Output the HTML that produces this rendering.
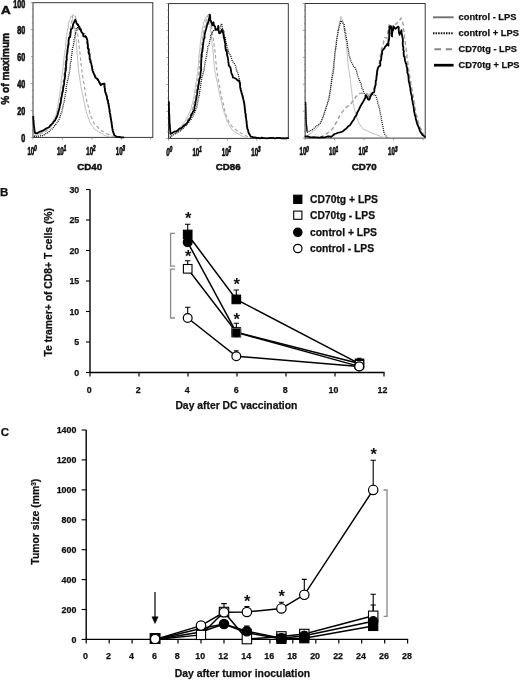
<!DOCTYPE html>
<html><head><meta charset="utf-8"><title>Figure</title>
<style>html,body{margin:0;padding:0;background:#fff}svg{display:block;filter:blur(0.45px)}text{stroke:#111;stroke-width:0.25px}.cn{stroke-width:0.7px}.st{stroke-width:0}.hv{stroke-width:0.5px}</style></head>
<body><svg width="520" height="680" viewBox="0 0 520 680">
<rect width="520" height="680" fill="#fff"/>
<rect x="33" y="2.7" width="119.8" height="134.7" fill="none" stroke="#2e2e2e" stroke-width="0.95"/>
<line x1="30.8" y1="137.4" x2="33" y2="137.4" stroke="#777" stroke-width="0.7"/>
<line x1="31.8" y1="130.7" x2="33" y2="130.7" stroke="#777" stroke-width="0.7"/>
<line x1="31.8" y1="123.9" x2="33" y2="123.9" stroke="#777" stroke-width="0.7"/>
<line x1="31.8" y1="117.2" x2="33" y2="117.2" stroke="#777" stroke-width="0.7"/>
<line x1="30.8" y1="110.5" x2="33" y2="110.5" stroke="#777" stroke-width="0.7"/>
<line x1="31.8" y1="103.7" x2="33" y2="103.7" stroke="#777" stroke-width="0.7"/>
<line x1="31.8" y1="97.0" x2="33" y2="97.0" stroke="#777" stroke-width="0.7"/>
<line x1="31.8" y1="90.3" x2="33" y2="90.3" stroke="#777" stroke-width="0.7"/>
<line x1="30.8" y1="83.5" x2="33" y2="83.5" stroke="#777" stroke-width="0.7"/>
<line x1="31.8" y1="76.8" x2="33" y2="76.8" stroke="#777" stroke-width="0.7"/>
<line x1="31.8" y1="70.0" x2="33" y2="70.0" stroke="#777" stroke-width="0.7"/>
<line x1="31.8" y1="63.3" x2="33" y2="63.3" stroke="#777" stroke-width="0.7"/>
<line x1="30.8" y1="56.6" x2="33" y2="56.6" stroke="#777" stroke-width="0.7"/>
<line x1="31.8" y1="49.8" x2="33" y2="49.8" stroke="#777" stroke-width="0.7"/>
<line x1="31.8" y1="43.1" x2="33" y2="43.1" stroke="#777" stroke-width="0.7"/>
<line x1="31.8" y1="36.4" x2="33" y2="36.4" stroke="#777" stroke-width="0.7"/>
<line x1="30.8" y1="29.6" x2="33" y2="29.6" stroke="#777" stroke-width="0.7"/>
<line x1="31.8" y1="22.9" x2="33" y2="22.9" stroke="#777" stroke-width="0.7"/>
<line x1="31.8" y1="16.2" x2="33" y2="16.2" stroke="#777" stroke-width="0.7"/>
<line x1="31.8" y1="9.4" x2="33" y2="9.4" stroke="#777" stroke-width="0.7"/>
<line x1="30.8" y1="2.7" x2="33" y2="2.7" stroke="#777" stroke-width="0.7"/>
<line x1="33.0" y1="137.4" x2="33.0" y2="139.6" stroke="#777" stroke-width="0.7"/>
<line x1="62.4" y1="137.4" x2="62.4" y2="139.6" stroke="#777" stroke-width="0.7"/>
<line x1="91.9" y1="137.4" x2="91.9" y2="139.6" stroke="#777" stroke-width="0.7"/>
<line x1="121.3" y1="137.4" x2="121.3" y2="139.6" stroke="#777" stroke-width="0.7"/>
<line x1="150.7" y1="137.4" x2="150.7" y2="139.6" stroke="#777" stroke-width="0.7"/>
<rect x="168.5" y="3.6" width="119.8" height="134.8" fill="none" stroke="#2e2e2e" stroke-width="0.95"/>
<line x1="166.3" y1="138.4" x2="168.5" y2="138.4" stroke="#777" stroke-width="0.7"/>
<line x1="167.3" y1="131.7" x2="168.5" y2="131.7" stroke="#777" stroke-width="0.7"/>
<line x1="167.3" y1="124.9" x2="168.5" y2="124.9" stroke="#777" stroke-width="0.7"/>
<line x1="167.3" y1="118.2" x2="168.5" y2="118.2" stroke="#777" stroke-width="0.7"/>
<line x1="166.3" y1="111.4" x2="168.5" y2="111.4" stroke="#777" stroke-width="0.7"/>
<line x1="167.3" y1="104.7" x2="168.5" y2="104.7" stroke="#777" stroke-width="0.7"/>
<line x1="167.3" y1="98.0" x2="168.5" y2="98.0" stroke="#777" stroke-width="0.7"/>
<line x1="167.3" y1="91.2" x2="168.5" y2="91.2" stroke="#777" stroke-width="0.7"/>
<line x1="166.3" y1="84.5" x2="168.5" y2="84.5" stroke="#777" stroke-width="0.7"/>
<line x1="167.3" y1="77.7" x2="168.5" y2="77.7" stroke="#777" stroke-width="0.7"/>
<line x1="167.3" y1="71.0" x2="168.5" y2="71.0" stroke="#777" stroke-width="0.7"/>
<line x1="167.3" y1="64.3" x2="168.5" y2="64.3" stroke="#777" stroke-width="0.7"/>
<line x1="166.3" y1="57.5" x2="168.5" y2="57.5" stroke="#777" stroke-width="0.7"/>
<line x1="167.3" y1="50.8" x2="168.5" y2="50.8" stroke="#777" stroke-width="0.7"/>
<line x1="167.3" y1="44.0" x2="168.5" y2="44.0" stroke="#777" stroke-width="0.7"/>
<line x1="167.3" y1="37.3" x2="168.5" y2="37.3" stroke="#777" stroke-width="0.7"/>
<line x1="166.3" y1="30.6" x2="168.5" y2="30.6" stroke="#777" stroke-width="0.7"/>
<line x1="167.3" y1="23.8" x2="168.5" y2="23.8" stroke="#777" stroke-width="0.7"/>
<line x1="167.3" y1="17.1" x2="168.5" y2="17.1" stroke="#777" stroke-width="0.7"/>
<line x1="167.3" y1="10.3" x2="168.5" y2="10.3" stroke="#777" stroke-width="0.7"/>
<line x1="166.3" y1="3.6" x2="168.5" y2="3.6" stroke="#777" stroke-width="0.7"/>
<line x1="168.5" y1="138.4" x2="168.5" y2="140.6" stroke="#777" stroke-width="0.7"/>
<line x1="197.9" y1="138.4" x2="197.9" y2="140.6" stroke="#777" stroke-width="0.7"/>
<line x1="227.4" y1="138.4" x2="227.4" y2="140.6" stroke="#777" stroke-width="0.7"/>
<line x1="256.8" y1="138.4" x2="256.8" y2="140.6" stroke="#777" stroke-width="0.7"/>
<line x1="286.2" y1="138.4" x2="286.2" y2="140.6" stroke="#777" stroke-width="0.7"/>
<rect x="305.1" y="3.5" width="120.1" height="134.6" fill="none" stroke="#2e2e2e" stroke-width="0.95"/>
<line x1="302.9" y1="138.1" x2="305.1" y2="138.1" stroke="#777" stroke-width="0.7"/>
<line x1="303.9" y1="131.4" x2="305.1" y2="131.4" stroke="#777" stroke-width="0.7"/>
<line x1="303.9" y1="124.6" x2="305.1" y2="124.6" stroke="#777" stroke-width="0.7"/>
<line x1="303.9" y1="117.9" x2="305.1" y2="117.9" stroke="#777" stroke-width="0.7"/>
<line x1="302.9" y1="111.2" x2="305.1" y2="111.2" stroke="#777" stroke-width="0.7"/>
<line x1="303.9" y1="104.4" x2="305.1" y2="104.4" stroke="#777" stroke-width="0.7"/>
<line x1="303.9" y1="97.7" x2="305.1" y2="97.7" stroke="#777" stroke-width="0.7"/>
<line x1="303.9" y1="91.0" x2="305.1" y2="91.0" stroke="#777" stroke-width="0.7"/>
<line x1="302.9" y1="84.3" x2="305.1" y2="84.3" stroke="#777" stroke-width="0.7"/>
<line x1="303.9" y1="77.5" x2="305.1" y2="77.5" stroke="#777" stroke-width="0.7"/>
<line x1="303.9" y1="70.8" x2="305.1" y2="70.8" stroke="#777" stroke-width="0.7"/>
<line x1="303.9" y1="64.1" x2="305.1" y2="64.1" stroke="#777" stroke-width="0.7"/>
<line x1="302.9" y1="57.3" x2="305.1" y2="57.3" stroke="#777" stroke-width="0.7"/>
<line x1="303.9" y1="50.6" x2="305.1" y2="50.6" stroke="#777" stroke-width="0.7"/>
<line x1="303.9" y1="43.9" x2="305.1" y2="43.9" stroke="#777" stroke-width="0.7"/>
<line x1="303.9" y1="37.1" x2="305.1" y2="37.1" stroke="#777" stroke-width="0.7"/>
<line x1="302.9" y1="30.4" x2="305.1" y2="30.4" stroke="#777" stroke-width="0.7"/>
<line x1="303.9" y1="23.7" x2="305.1" y2="23.7" stroke="#777" stroke-width="0.7"/>
<line x1="303.9" y1="17.0" x2="305.1" y2="17.0" stroke="#777" stroke-width="0.7"/>
<line x1="303.9" y1="10.2" x2="305.1" y2="10.2" stroke="#777" stroke-width="0.7"/>
<line x1="302.9" y1="3.5" x2="305.1" y2="3.5" stroke="#777" stroke-width="0.7"/>
<line x1="305.1" y1="138.1" x2="305.1" y2="140.29999999999998" stroke="#777" stroke-width="0.7"/>
<line x1="334.6" y1="138.1" x2="334.6" y2="140.29999999999998" stroke="#777" stroke-width="0.7"/>
<line x1="364.1" y1="138.1" x2="364.1" y2="140.29999999999998" stroke="#777" stroke-width="0.7"/>
<line x1="393.6" y1="138.1" x2="393.6" y2="140.29999999999998" stroke="#777" stroke-width="0.7"/>
<line x1="423.1" y1="138.1" x2="423.1" y2="140.29999999999998" stroke="#777" stroke-width="0.7"/>
<polyline points="34.0,135.6 35.7,135.0 37.3,134.5 38.9,134.0 40.6,133.1 42.3,132.1 44.0,131.7 45.2,130.3 46.5,129.7 47.8,128.4 49.1,127.2 49.9,126.0 50.7,124.5 51.6,123.6 52.4,122.1 53.3,120.4 54.0,118.7 54.6,117.2 55.5,115.9 56.2,114.5 56.5,112.4 56.9,111.0 57.1,109.1 57.5,107.5 57.9,105.2 58.3,103.3 58.4,102.1 58.6,100.2 58.8,98.7 59.3,96.9 59.5,94.9 59.8,93.5 60.0,91.7 60.3,90.5 60.4,88.6 60.5,87.0 60.8,85.8 61.1,83.3 61.2,82.2 61.3,80.4 61.5,78.3 61.7,77.5 61.9,75.3 62.2,74.5 62.3,72.2 62.6,71.1 62.9,69.4 62.9,67.1 63.2,66.1 63.6,63.3 63.5,61.8 63.7,60.4 64.0,58.4 64.0,57.0 64.3,55.5 64.8,54.0 64.8,52.2 65.1,49.6 65.4,49.2 65.6,47.6 65.6,45.3 65.6,44.0 65.8,41.4 66.1,40.0 66.3,38.1 66.4,36.6 66.6,35.4 66.8,34.7 67.3,31.7 67.4,30.5 67.8,28.4 68.3,28.4 68.4,25.8 68.4,23.5 68.8,22.2 69.4,20.3 69.9,19.8 71.0,16.1 72.5,16.5 72.9,20.1 73.4,21.1 73.5,22.1 73.8,24.5 74.2,26.1 74.3,26.7 74.7,29.7 75.0,31.0 75.1,32.4 75.1,33.6 75.3,34.3 75.4,36.4 75.7,38.7 76.2,39.9 76.3,42.5 76.5,43.1 76.3,44.5 76.4,46.2 76.7,49.0 77.0,50.0 77.0,52.1 76.9,53.6 77.4,55.4 77.5,56.6 77.4,58.8 77.6,60.4 78.0,61.5 77.9,64.0 78.2,64.5 78.1,66.2 78.5,68.8 78.4,70.4 78.9,71.9 79.0,73.4 79.1,74.4 79.6,76.9 79.8,79.0 80.0,80.6 80.3,81.5 80.4,83.3 80.8,85.3 81.1,86.8 81.4,89.0 81.8,90.2 82.2,92.4 82.5,94.1 82.9,95.3 83.2,96.5 83.5,98.3 83.7,100.5 84.1,101.8 84.6,103.5 84.8,105.0 85.2,106.8 85.4,108.3 85.8,109.6 86.2,111.4 86.5,113.2 87.2,114.5 87.7,116.1 88.3,117.8 88.8,119.2 89.4,121.0 90.0,122.5 90.7,123.6 91.6,125.4 92.7,126.3 93.5,127.8 94.5,129.1 96.3,130.4 98.2,131.7 100.0,132.7 101.8,133.4 103.5,134.8 105.2,135.8 107.0,136.1 108.9,136.7 110.6,137.0" fill="none" stroke="#b4b4b4" stroke-width="0.9" stroke-linejoin="round"/>
<polyline points="34.0,136.0 36.0,135.4 38.0,134.9 40.0,134.3 41.5,133.6 42.9,132.7 44.5,131.9 45.9,131.3 47.3,130.1 48.4,128.6 49.7,127.8 51.0,126.3 52.0,125.1 53.1,123.1 53.9,121.9 55.0,120.1 55.5,118.0 56.2,116.6 56.7,115.3 57.4,113.6 57.8,112.0 58.4,110.3 58.8,108.1 59.1,106.9 59.4,104.4 59.8,102.8 60.0,100.9 60.3,99.2 60.6,97.6 61.1,95.8 61.3,94.0 61.5,92.1 61.7,90.4 62.1,89.3 62.2,87.5 62.6,85.3 62.8,84.0 63.0,82.8 63.2,80.7 63.6,79.6 63.6,77.8 64.0,75.9 64.0,74.0 64.1,72.0 64.3,71.2 64.6,68.8 64.7,68.2 65.2,66.3 65.2,64.1 65.3,62.8 65.5,61.2 65.7,60.3 66.2,58.1 66.1,57.0 66.3,54.4 66.4,52.8 66.8,51.3 66.9,49.7 67.0,47.6 67.3,46.2 67.5,43.9 67.8,42.5 68.1,41.4 68.4,39.9 68.6,38.7 68.8,35.9 69.3,33.9 69.5,33.0 69.5,31.6 70.2,29.5 70.5,28.1 70.5,25.8 71.0,24.7 71.6,23.1 71.8,21.6 72.3,19.6 72.5,16.6 72.8,15.7 74.2,14.2 75.1,16.0 75.9,18.4 76.0,18.7 76.4,22.0 76.4,23.3 76.7,24.1 77.0,26.3 76.9,28.1 77.4,29.7 77.6,32.9 77.7,33.4 77.9,35.6 78.2,37.1 78.3,37.8 78.3,39.7 78.7,41.5 78.8,42.6 78.8,44.7 79.2,47.0 79.4,48.0 79.5,49.9 79.7,51.1 80.0,52.9 80.3,55.7 80.1,56.6 80.6,59.0 80.6,59.7 80.7,62.3 80.9,63.5 81.1,65.0 81.6,66.2 81.7,68.3 81.9,70.3 82.0,72.2 82.3,72.8 82.4,75.1 82.8,76.5 82.9,78.2 83.2,80.5 83.4,82.1 83.9,83.1 84.2,85.4 84.5,86.5 84.6,88.2 85.0,90.0 85.1,91.5 85.4,92.7 85.6,95.1 85.9,96.8 86.2,97.8 86.5,99.3 86.9,101.6 87.4,103.1 87.8,104.8 88.2,106.1 88.6,107.3 89.0,109.3 89.4,111.1 89.7,112.2 90.3,113.9 90.6,115.7 91.4,117.7 92.3,119.1 93.0,120.9 93.8,122.7 94.5,124.3 95.9,125.9 97.3,126.7 98.7,128.3 100.0,129.0 101.2,130.1 102.5,131.3 104.1,132.2 105.9,133.4 107.6,134.0 109.2,134.9 110.8,135.5 112.3,136.2 114.0,137.0" fill="none" stroke="#a4a4a4" stroke-width="1.15" stroke-dasharray="3.5 2.5" stroke-linejoin="round"/>
<polyline points="34.1,136.4 36.7,136.7 38.5,136.1 40.1,135.8 41.8,135.6 43.6,135.5 45.3,133.9 47.0,133.2 48.9,131.9 50.2,130.2 51.5,129.5 52.9,128.1 54.3,126.3 55.1,124.9 56.1,124.0 57.1,122.7 58.0,121.4 58.9,119.8 59.4,118.5 60.0,117.1 60.6,114.9 61.1,113.3 61.8,112.2 62.2,109.9 62.6,108.8 62.9,106.7 63.3,104.8 63.6,103.6 64.1,102.1 64.4,100.2 64.6,98.3 65.2,97.2 65.2,94.6 65.5,93.8 65.7,91.5 66.1,90.8 66.1,87.8 66.4,86.7 66.8,84.7 67.1,83.9 67.4,81.3 68.0,79.7 68.3,77.8 68.4,77.0 68.8,75.6 69.3,72.5 69.6,71.2 70.0,70.5 69.9,67.8 70.1,67.2 70.3,63.8 70.4,62.8 71.0,62.1 71.1,60.7 71.4,57.7 71.3,57.2 71.9,53.7 72.1,52.7 72.2,51.0 72.4,48.6 72.7,47.7 73.4,45.5 73.7,44.0 73.6,43.7 74.2,41.2 74.0,39.6 74.5,39.0 74.8,36.1 75.6,33.7 75.6,34.0 76.2,30.5 76.1,28.9 77.2,27.7 77.6,27.7 77.9,24.4 80.3,27.3 80.5,29.2 81.2,29.8 81.7,32.6 83.5,33.8 84.8,33.8 85.6,36.7 87.3,39.6 87.2,39.6 87.5,41.9 88.0,42.8 88.2,45.8 88.4,47.5 88.6,48.2 88.7,50.0 89.2,51.1 89.2,54.1 89.5,54.2 89.7,56.8 90.2,59.3 90.8,60.8 90.9,60.6 91.1,63.0 91.8,64.6 91.9,66.2 92.5,68.3 92.9,70.3 93.3,70.7 93.7,72.6 94.4,74.3 95.2,75.5 95.7,77.1 96.9,79.7 98.2,80.4 99.5,83.1 100.9,83.6 102.9,84.5 104.8,83.9 104.8,86.8 105.1,88.8 105.0,89.7 105.5,91.1 106.3,93.3 106.7,94.5 107.1,96.2 107.3,98.2 108.0,98.9 108.3,101.2 108.5,102.5 108.7,103.9 109.0,106.0 109.4,107.2 109.5,109.0 110.0,110.5 110.1,112.2 110.5,114.2 110.6,115.4 111.0,117.4 111.3,118.6 111.4,120.8 111.7,122.0 111.9,124.2 112.1,125.5 112.4,127.0 112.7,129.1 112.9,130.1 113.5,131.8 114.0,134.0 114.7,135.6 116.1,136.4 117.5,137.0" fill="none" stroke="#111" stroke-width="1.3" stroke-dasharray="1 1" stroke-linejoin="round"/>
<polyline points="33.3,116.6 33.3,118.9 33.6,121.1 33.6,122.5 33.8,124.2 33.9,125.8 34.3,128.2 34.4,129.6 34.8,131.9 34.9,133.0 37.3,133.2 39.4,131.8 41.5,131.2 43.6,130.4 45.3,129.0 47.1,128.0 48.8,127.5 50.2,125.5 51.5,124.4 52.9,123.1 53.8,121.4 55.0,120.6 55.8,118.7 57.0,116.5 57.5,115.1 57.8,114.0 58.3,112.1 58.7,110.9 59.1,109.5 59.6,107.6 59.8,106.2 60.3,103.9 60.7,103.1 60.9,100.4 61.3,98.6 61.5,97.5 61.8,95.8 62.3,93.4 62.6,91.8 62.9,91.3 63.1,88.4 63.3,87.3 63.8,85.1 64.0,85.1 64.2,83.1 64.1,81.8 64.5,79.9 65.0,76.5 65.2,76.3 65.0,73.3 65.6,71.0 65.9,69.5 66.0,67.5 66.0,67.7 66.0,64.5 66.3,63.0 66.1,61.0 66.4,61.3 66.8,59.5 66.7,57.6 66.8,55.4 67.2,53.3 67.5,52.1 67.6,51.4 67.5,50.1 68.0,46.8 68.4,44.8 68.7,44.1 68.5,43.0 68.7,39.7 69.2,37.7 69.7,36.5 70.1,37.0 70.5,34.4 70.8,30.6 71.1,29.3 72.0,28.5 72.4,28.3 73.1,24.1 74.6,21.4 75.4,19.7 76.0,21.3 76.7,23.7 77.6,24.0 78.8,26.4 79.5,29.4 80.4,28.4 81.2,31.4 82.6,33.5 83.0,33.6 83.4,36.4 86.0,36.6 86.7,38.3 87.5,40.7 87.2,42.9 87.3,43.5 87.8,44.4 87.8,47.6 87.9,48.7 88.8,49.3 88.5,52.3 89.0,53.9 89.6,54.3 89.6,56.2 89.7,59.3 90.5,60.4 90.4,62.3 91.1,62.9 91.5,64.6 91.6,65.4 92.0,66.9 92.4,70.2 93.0,72.1 93.4,72.5 94.1,74.4 94.9,76.0 95.4,77.8 96.9,78.5 98.1,79.7 99.1,82.0 100.7,85.2 102.6,83.8 104.5,83.7 104.4,86.8 104.8,88.4 105.0,90.9 105.3,92.2 105.9,93.8 106.2,95.1 106.7,96.0 107.0,98.1 107.4,100.1 107.9,100.3 108.1,103.3 108.5,103.7 108.6,105.3 109.1,107.7 109.4,109.5 109.5,111.0 109.8,112.9 110.3,114.6 110.3,116.2 110.8,117.9 110.8,118.7 111.1,120.1 111.5,122.6 111.7,124.2 111.9,125.2 112.0,126.7 112.4,128.4 112.6,130.2 113.1,131.8 113.8,133.9 114.4,135.3 115.9,136.2 117.3,137.1 119.2,137.0 121.4,137.4 123.5,137.3" fill="none" stroke="#000" stroke-width="1.8" stroke-linejoin="round" stroke-linecap="round"/>
<polyline points="169.5,136.6 170.4,134.5 171.8,133.5 173.1,132.6 174.4,131.7 175.8,131.3 177.1,130.1 178.5,129.4 179.6,127.8 180.7,126.7 181.8,125.4 182.9,123.5 184.1,122.4 185.1,121.1 185.9,119.7 186.8,118.2 187.5,116.3 188.3,114.9 189.1,113.1 189.9,111.5 190.5,110.2 191.1,108.7 191.4,107.4 191.8,105.3 192.3,103.9 192.8,102.2 193.1,100.2 193.5,99.0 194.0,97.2 194.2,95.2 194.6,93.7 194.6,91.9 195.1,90.0 195.2,88.3 195.6,87.3 195.6,84.8 195.9,83.3 196.3,81.4 196.4,79.7 196.9,78.7 196.9,77.3 197.1,74.9 197.7,73.8 197.8,71.6 197.9,70.2 198.0,68.0 198.2,66.1 198.3,65.5 198.5,63.5 198.6,61.8 198.6,60.3 198.8,58.9 199.1,56.8 199.1,55.7 199.2,53.2 199.4,52.6 199.6,50.6 199.9,48.8 200.0,46.7 200.1,45.2 200.2,43.1 200.7,41.9 200.8,39.3 201.0,37.9 201.3,36.2 201.6,35.5 201.7,33.3 202.2,31.1 202.3,30.6 202.4,28.1 202.7,26.9 203.4,24.7 203.2,23.1 204.1,21.6 204.8,19.6 205.7,17.5 207.4,16.4 208.9,18.4 209.2,20.2 209.3,22.3 209.7,22.1 209.9,24.5 210.0,26.2 210.5,28.4 210.6,29.3 210.7,32.0 211.3,33.3 211.1,35.6 211.4,36.2 211.5,39.0 211.9,40.5 212.0,42.1 212.1,44.5 212.3,45.7 212.7,47.8 212.7,48.7 212.9,50.1 213.2,52.3 213.4,53.9 213.4,55.6 213.5,57.3 213.6,59.8 213.8,60.9 214.0,63.0 214.2,64.9 214.5,66.3 214.8,68.7 214.6,70.4 215.3,72.1 215.4,73.8 215.9,74.4 216.0,77.3 216.5,78.1 216.7,79.7 217.1,82.1 217.5,83.1 218.0,85.5 218.1,87.3 218.5,88.9 218.9,90.7 219.3,92.3 219.4,93.8 219.9,95.6 220.2,97.4 220.6,98.4 220.9,99.9 221.4,101.4 221.8,103.1 222.2,105.0 222.6,106.9 222.9,108.5 223.4,109.9 223.8,111.7 224.2,112.9 224.9,114.2 225.4,116.2 225.9,117.7 226.6,119.5 227.1,121.0 227.7,122.2 228.4,123.5 229.3,125.4 230.3,127.1 231.3,128.4 232.3,130.2 233.6,131.0 235.0,132.0 236.7,132.9 238.4,134.0 240.0,134.9 241.6,136.0 243.2,136.6 244.7,137.2 246.3,138.0" fill="none" stroke="#b4b4b4" stroke-width="0.9" stroke-linejoin="round"/>
<polyline points="169.5,137.0 172.0,135.6 173.4,134.6 175.0,133.5 176.4,132.4 177.9,131.3 179.6,130.6 180.6,129.3 181.8,127.9 182.9,126.6 184.0,125.2 185.1,123.6 186.2,122.5 187.0,120.8 187.7,119.3 188.6,118.5 189.3,116.6 190.1,115.5 190.8,113.7 191.6,112.3 192.0,110.7 192.5,109.4 192.8,107.4 193.2,105.4 193.8,104.1 194.2,102.3 194.5,100.6 195.0,99.4 195.4,97.2 195.5,95.1 195.9,93.4 196.0,91.5 196.2,90.5 196.5,89.0 196.8,87.2 197.1,84.4 197.5,83.0 197.7,81.3 197.7,80.3 198.2,78.8 198.4,76.1 198.6,75.3 198.7,73.9 198.9,72.3 199.3,69.3 199.2,68.5 199.6,66.1 199.6,65.3 199.7,63.9 199.9,61.0 200.1,60.1 200.2,58.6 200.3,57.1 200.5,55.2 200.8,53.2 200.8,52.1 201.2,50.5 201.3,48.0 201.3,47.5 201.8,45.6 201.8,43.6 202.3,42.4 202.4,39.8 202.6,39.2 202.8,37.2 203.1,36.0 203.4,33.2 203.3,31.6 203.8,30.5 204.4,29.3 204.3,27.5 205.1,25.9 205.3,23.0 205.8,22.3 206.1,20.8 206.6,17.5 207.4,17.3 207.8,15.5 209.6,12.9 209.8,15.5 210.1,16.1 210.3,18.9 210.9,19.9 210.8,22.3 211.3,22.9 211.4,25.9 211.7,26.9 211.6,28.7 211.7,29.7 211.8,32.4 212.2,33.9 212.5,35.6 212.7,36.5 213.4,38.9 213.3,41.1 213.8,42.0 214.0,44.1 214.2,45.3 214.2,48.7 214.8,49.6 214.9,50.9 215.2,52.9 215.5,55.2 215.6,57.2 215.6,57.5 215.7,59.4 215.8,60.9 216.2,63.8 216.3,65.6 216.6,66.0 216.7,68.2 216.7,70.6 217.0,71.8 217.4,74.1 217.7,75.1 217.9,76.6 218.3,79.4 218.4,79.9 218.7,82.1 219.1,84.5 219.4,85.2 219.8,87.7 220.1,89.8 220.3,90.6 220.8,93.2 221.1,94.3 221.5,96.5 221.7,97.8 222.2,99.4 222.6,101.1 223.0,102.8 223.5,104.5 223.9,106.3 224.2,108.7 224.6,110.4 225.2,112.1 225.4,113.5 226.1,115.5 226.8,116.9 227.4,118.3 228.1,120.1 228.7,121.5 229.3,123.1 230.6,124.7 231.7,126.1 232.9,127.1 234.1,128.2 235.4,129.5 236.9,130.5 238.5,131.7 240.0,132.6 241.6,133.5 243.2,134.1 244.7,135.0 246.2,136.0 247.8,137.3 249.3,138.0" fill="none" stroke="#a4a4a4" stroke-width="1.15" stroke-dasharray="3.5 2.5" stroke-linejoin="round"/>
<polyline points="170.1,137.8 171.4,136.3 173.1,135.0 174.6,134.2 176.3,133.1 177.9,132.4 179.3,131.2 181.1,130.6 182.1,129.4 183.4,128.1 184.5,126.9 185.5,126.3 186.8,124.7 187.8,123.4 188.8,122.5 189.6,120.9 190.6,120.0 191.6,118.5 192.3,116.7 193.4,115.7 194.0,113.7 194.7,112.4 195.4,111.3 195.9,108.8 196.7,107.7 197.0,105.7 197.2,104.7 197.6,102.2 197.9,101.1 198.1,99.3 198.6,97.6 198.8,96.2 199.4,94.7 199.5,92.8 199.8,91.2 199.9,89.7 200.5,87.5 200.6,85.9 200.8,83.4 201.2,82.0 201.2,80.2 201.6,79.7 201.9,76.9 202.6,75.4 202.8,74.5 203.4,72.7 203.8,70.3 204.2,69.7 204.2,67.0 204.7,66.0 204.9,63.5 205.2,61.8 205.6,61.5 205.7,59.2 206.3,56.6 206.6,56.5 206.6,53.6 207.2,52.2 207.3,51.4 207.8,48.3 207.9,46.6 208.4,46.3 209.1,44.4 209.6,42.5 209.6,39.9 210.6,39.1 210.6,36.1 211.5,34.4 212.2,32.1 212.8,31.6 214.1,29.9 216.3,30.7 219.1,29.3 219.9,28.4 220.9,24.6 221.6,23.6 222.1,25.3 222.5,28.7 223.1,28.7 223.5,30.8 224.1,32.0 224.1,34.5 224.3,35.9 225.2,37.3 225.1,38.8 225.6,39.6 225.8,41.3 226.4,43.7 226.8,45.1 227.2,47.6 228.0,49.5 228.3,51.3 229.1,53.4 230.3,55.1 231.0,56.8 231.5,58.2 232.2,60.6 233.1,62.2 233.9,63.2 235.2,64.5 235.8,67.0 236.4,69.9 237.1,71.5 237.6,72.1 238.4,74.7 238.6,76.5 239.3,79.0 239.4,79.9 240.0,82.6 240.0,83.7 240.3,86.1 240.7,88.1 241.0,89.4 241.4,91.3 241.8,92.5 242.2,94.3 242.7,95.1 243.1,96.5 243.5,98.8 243.8,100.8 244.2,101.7 244.5,104.0 244.7,105.1 244.8,107.0 245.1,108.5 245.2,110.6 245.5,112.1 245.8,114.4 245.9,115.7 246.1,117.4 246.3,119.4 246.6,120.8 246.9,122.8 247.1,125.0 247.3,126.3 247.7,128.9 248.2,130.2 248.8,132.6 250.0,134.7 251.0,136.5" fill="none" stroke="#111" stroke-width="1.3" stroke-dasharray="1 1" stroke-linejoin="round"/>
<polyline points="168.8,101.8 168.9,102.8 169.0,104.3 168.9,106.3 169.0,108.6 169.1,109.7 169.0,111.2 169.1,113.2 169.3,115.3 169.4,116.5 169.3,118.4 169.5,119.8 169.5,122.1 169.6,123.3 169.9,125.6 169.9,126.6 170.1,128.9 170.2,131.0 170.4,132.2 170.3,133.8 172.2,133.1 173.9,131.9 175.8,131.3 177.6,130.6 179.4,128.6 181.2,128.2 182.5,127.1 183.7,125.6 185.3,124.9 186.5,123.5 187.5,122.2 188.5,120.6 189.6,119.4 190.6,117.0 191.3,115.0 192.4,113.2 193.0,111.6 194.0,110.8 194.4,109.1 194.5,106.3 195.1,105.1 195.4,103.4 195.5,101.6 195.8,100.9 196.3,98.3 196.6,96.7 196.7,95.9 197.1,94.4 197.3,92.1 197.5,89.4 198.1,89.2 198.0,87.6 198.5,84.8 198.7,84.4 198.9,82.8 199.2,80.1 199.8,78.2 199.9,78.0 200.3,76.2 200.6,73.3 200.7,71.6 201.2,70.0 201.0,67.9 201.1,66.7 201.1,64.2 201.1,64.3 201.3,61.1 201.3,59.5 201.5,57.2 201.9,56.3 201.7,55.7 201.8,52.9 202.5,50.9 202.4,51.2 202.8,47.7 202.6,47.6 202.9,46.7 203.0,45.1 203.5,41.4 203.7,39.5 204.2,38.3 204.6,37.7 204.5,35.0 204.9,33.3 205.4,31.4 205.4,31.1 205.7,30.2 206.3,28.3 207.0,25.5 207.4,23.2 207.7,24.1 208.3,21.8 208.7,19.8 209.4,17.9 209.8,14.7 210.2,16.9 210.3,20.1 210.8,20.7 211.8,23.5 212.3,25.4 213.5,22.3 214.0,25.6 215.1,26.5 215.4,29.5 217.2,29.2 217.9,28.0 218.3,26.0 218.2,30.1 219.0,31.3 218.8,31.0 219.2,33.4 220.6,32.6 221.8,29.7 222.7,31.0 223.3,34.0 223.6,34.8 223.8,37.8 224.1,37.5 224.8,41.6 224.7,41.3 225.5,44.7 225.2,45.5 225.6,48.8 226.0,50.9 226.7,50.3 226.9,52.8 227.2,55.6 227.2,55.3 227.9,57.9 228.2,60.2 228.4,62.2 228.6,62.9 228.7,65.2 229.5,66.4 230.3,67.2 230.7,68.8 231.2,72.2 231.5,73.3 232.3,75.0 232.6,75.7 232.8,77.5 234.5,78.0 235.9,78.7 237.8,80.6 239.2,80.5 239.6,82.6 240.1,84.1 240.1,86.8 240.3,87.8 240.7,90.0 241.2,91.4 241.5,92.8 242.0,94.0 242.5,96.2 242.6,96.8 243.1,98.2 243.4,99.9 243.9,102.1 244.2,103.0 244.4,105.2 244.6,106.5 244.7,108.1 245.2,110.9 245.1,112.5 245.7,114.1 245.6,115.8 245.9,117.2 246.2,118.8 246.5,121.3 246.6,123.4 246.8,124.5 246.9,126.1 247.4,128.8 248.1,130.4 248.5,132.7 249.8,134.9 250.8,136.7 253.0,137.2 254.9,137.3 257.1,137.9 258.6,138.0 260.2,138.3 261.8,137.7 263.5,138.1 265.2,138.2 266.9,138.4 268.4,138.1 270.0,137.9 271.7,137.8 273.4,137.9 274.9,138.5 276.5,137.8 278.2,137.9 279.9,137.8 281.5,138.4 283.2,138.1 284.7,138.3 286.4,138.1 288.0,138.2" fill="none" stroke="#000" stroke-width="1.8" stroke-linejoin="round" stroke-linecap="round"/>
<polyline points="306.0,136.5 308.0,135.4 310.1,133.8 311.2,133.0 312.5,131.9 313.7,130.8 315.0,130.0 316.2,129.0 317.3,127.8 318.4,126.3 319.5,124.7 320.2,123.5 320.9,121.8 321.7,120.2 322.3,118.5 323.0,117.3 323.4,115.2 324.1,113.8 324.5,112.4 325.0,110.8 325.6,109.2 326.1,107.5 326.5,105.7 327.2,104.2 327.5,102.7 328.0,100.2 328.5,98.6 329.0,97.1 329.2,95.4 329.4,93.8 329.8,91.7 330.0,90.0 330.2,89.3 330.5,87.5 330.8,85.2 331.1,84.3 331.1,82.8 331.4,80.4 331.7,79.3 331.9,77.1 332.1,75.4 332.1,74.2 332.2,72.9 332.5,70.9 332.9,69.5 333.1,68.2 333.3,66.5 333.5,65.3 333.5,63.6 333.7,62.0 334.1,60.5 334.1,58.2 334.5,57.5 334.7,54.5 334.8,53.0 335.0,52.5 335.1,51.0 335.5,48.3 335.5,46.9 336.0,45.5 335.9,42.8 336.2,42.5 336.4,40.4 336.7,39.0 336.9,36.4 337.5,35.4 337.7,34.1 338.1,30.9 338.1,29.5 338.4,29.1 338.9,25.8 338.8,25.6 339.5,23.1 339.8,21.0 340.4,19.9 340.8,18.7 340.8,16.4 341.5,19.3 342.4,19.3 342.8,21.7 343.2,23.8 343.5,25.1 343.5,27.2 343.9,27.8 344.3,31.3 344.3,31.4 344.9,33.3 344.9,35.4 345.2,37.2 345.6,39.5 346.0,39.6 346.0,42.5 346.3,44.2 346.3,45.7 346.4,46.7 346.7,49.4 347.0,50.7 346.9,52.5 347.2,53.8 347.3,55.3 347.5,57.0 347.5,58.6 347.7,61.3 348.0,62.0 348.1,63.5 348.3,65.1 348.3,67.8 348.7,68.9 349.0,70.5 349.1,71.9 349.4,73.9 349.8,76.0 350.1,77.4 350.3,79.4 350.3,80.7 350.7,83.3 350.8,84.8 351.1,86.6 351.2,87.9 351.6,89.4 351.7,90.9 351.9,92.9 352.2,94.6 352.3,96.3 352.6,98.7 352.8,99.8 353.0,102.3 353.2,103.2 353.7,105.7 353.9,106.8 354.3,108.9 354.8,110.7 355.2,112.1 355.5,114.2 355.9,115.7 356.6,117.3 357.1,118.9 357.8,120.7 358.5,122.2 359.2,123.6 360.2,124.8 361.3,126.5 362.3,127.6 363.3,129.3 364.8,129.7 366.3,130.4 367.9,131.1 369.4,132.0 371.1,132.7 372.7,133.4 374.4,133.9 376.0,134.5 377.8,135.4 379.5,135.9 381.3,136.8 383.0,137.2 384.7,137.7 386.3,137.5 388.0,138.0" fill="none" stroke="#b4b4b4" stroke-width="0.9" stroke-linejoin="round"/>
<polyline points="320.0,137.6 321.6,136.6 323.1,135.7 324.6,134.8 326.0,134.0 327.5,133.3 329.2,131.8 330.8,130.5 332.3,129.0 333.3,127.8 334.2,125.6 335.3,124.0 336.4,122.5 337.1,120.8 338.0,119.2 338.7,117.9 339.5,116.2 340.3,114.5 341.4,113.3 342.3,111.8 343.4,110.7 344.5,109.1 345.7,107.8 347.0,106.9 348.4,105.7 349.9,105.1 350.8,104.1 351.7,102.4 352.7,101.3 353.9,99.4 354.9,98.6 355.8,96.7 356.9,95.9 357.8,94.4 360.0,93.5 362.0,93.3 363.9,93.4 366.0,93.3 367.6,94.2 369.1,96.5 369.9,94.2 370.9,93.8 371.9,92.4 372.9,90.9 373.9,89.0 375.1,87.5 375.1,86.9 375.4,85.2 375.7,82.6 375.6,82.0 376.0,79.4 376.1,78.1 376.2,76.3 376.3,75.8 376.6,74.1 376.7,72.0 377.1,70.2 377.6,68.9 378.0,67.3 378.6,64.8 379.0,63.7 379.7,61.8 379.7,60.9 380.2,58.9 380.3,56.3 380.6,54.3 380.8,53.3 381.2,51.6 381.5,48.9 381.9,48.3 382.3,46.4 382.9,45.4 383.5,43.2 383.8,40.8 384.3,40.3 384.8,37.5 387.0,38.4 387.5,36.4 387.5,36.4 387.6,34.2 387.9,31.8 388.1,29.9 388.6,29.5 388.9,26.5 389.1,25.3 389.3,24.1 389.7,26.4 390.1,27.5 391.1,28.5 391.5,30.9 392.1,28.2 393.0,25.8 393.7,23.8 396.0,24.2 397.3,22.6 398.6,22.1 399.2,20.7 400.0,19.8 401.0,18.0 401.5,19.1 401.9,20.1 402.7,22.6 403.0,24.3 403.4,25.3 403.2,28.1 403.6,29.3 404.0,31.4 404.2,31.4 404.1,34.5 404.5,34.9 404.4,36.7 404.6,38.5 405.1,40.4 405.2,41.3 405.4,44.5 405.7,45.2 405.8,47.5 406.1,48.0 406.3,50.0 406.4,51.5 406.5,53.3 406.8,54.4 406.9,57.0 407.0,58.0 407.5,59.8 407.5,61.4 407.9,62.8 408.0,65.6 408.1,66.6 408.5,68.5 408.6,69.4 408.9,71.5 409.2,73.2 409.4,75.3 409.8,76.7 410.0,78.7 410.4,79.9 410.7,82.3 410.9,83.9 411.2,84.8 411.6,86.9 411.9,88.7 412.3,90.6 412.3,92.1 412.8,93.6 413.2,95.2 413.4,97.4 413.6,98.6 413.9,100.5 414.2,102.0 414.4,103.0 414.7,105.0 415.0,106.8 415.1,108.0 415.4,110.1 415.7,111.1 416.0,113.1 416.4,114.9 417.0,116.6 417.3,118.5 417.9,120.3 418.4,122.2 418.9,123.6 419.4,125.5 420.1,127.5 420.8,128.8 421.5,130.5 422.4,132.2 423.2,133.7 424.0,135.3" fill="none" stroke="#a4a4a4" stroke-width="1.5" stroke-dasharray="4 2.7" stroke-linejoin="round"/>
<polyline points="305.4,101.8 305.7,104.0 305.7,105.0 305.6,106.5 305.7,108.5 305.8,110.3 305.9,111.9 306.0,113.4 306.1,115.4 305.9,116.8 306.1,118.6 306.2,120.2 306.1,122.3 306.4,123.9 306.7,125.6 306.8,127.6 307.0,129.4 307.1,130.8 307.4,132.3 309.0,131.4 310.5,130.6 312.1,130.0 313.4,128.8 314.7,127.8 316.0,126.3 317.4,125.3 318.8,124.5 319.9,123.5 320.8,122.6 321.4,120.7 322.1,119.4 322.9,117.1 323.5,116.0 324.0,114.6 324.5,112.4 325.1,111.0 325.6,109.2 326.1,107.9 326.6,106.1 327.1,105.6 327.6,102.6 328.3,101.6 328.9,99.7 329.1,97.7 329.6,95.7 329.8,93.4 330.2,91.5 330.5,90.9 330.7,88.6 330.7,86.6 331.1,85.1 331.5,82.8 331.5,82.3 331.8,80.1 331.9,77.8 332.2,77.4 332.8,74.6 333.1,72.5 333.3,72.5 333.5,70.8 333.8,67.5 333.8,66.7 333.9,65.6 334.0,64.1 334.2,61.1 334.5,59.5 334.6,59.2 334.8,57.0 334.6,55.4 334.8,54.1 335.0,52.3 335.4,50.2 335.8,48.1 335.7,48.2 336.0,46.4 336.5,43.9 336.4,41.3 337.0,39.7 337.0,39.1 337.1,37.2 337.4,35.7 337.9,33.5 338.0,31.9 338.2,29.5 338.5,29.7 339.0,28.0 339.2,26.5 340.0,24.4 340.5,22.4 340.8,20.9 341.7,20.9 342.5,22.6 343.7,23.7 344.3,24.8 344.4,27.0 344.7,30.1 345.0,30.0 345.0,33.1 345.8,33.4 345.9,36.8 346.3,37.7 346.6,39.8 347.0,40.5 347.4,43.2 347.4,44.3 347.7,47.5 348.2,48.0 348.4,49.9 348.6,51.9 349.0,55.3 349.7,56.7 349.8,57.9 350.6,60.3 351.3,61.3 351.7,62.8 353.0,64.9 353.6,66.4 354.8,67.4 356.1,70.3 356.5,70.9 357.1,74.0 357.6,75.2 358.1,76.9 358.5,77.9 359.2,80.1 359.8,80.8 360.4,82.8 361.0,83.7 361.6,86.4 361.9,88.0 362.6,88.7 363.3,90.5 363.9,93.1 364.7,94.5 365.7,95.7 367.0,96.7 368.1,98.0 369.3,95.9 370.7,95.8 371.9,94.3 373.9,95.0 375.3,94.9 375.8,95.9 376.6,97.8 377.0,99.4 377.4,100.6 377.9,103.2 378.4,104.3 378.7,106.1 379.4,108.1 379.8,110.3 380.1,111.9 380.4,113.8 380.7,114.9 381.2,116.8 381.3,119.0 381.7,120.7 381.9,122.1 382.3,123.8 382.6,125.1 382.9,126.7 383.2,128.2 383.5,130.5 383.9,131.9 384.2,133.2 385.1,134.8 386.1,136.2 387.0,137.6" fill="none" stroke="#111" stroke-width="1.3" stroke-dasharray="1 1" stroke-linejoin="round"/>
<path d="M305.6,102 L306.1,120 L307,131.5" fill="none" stroke="#111" stroke-width="1.3"/>
<polyline points="305.5,136.3 307.2,136.5 308.7,136.7 310.4,137.3 312.0,137.4 313.7,137.2 315.3,137.4 317.0,137.3 318.5,137.7 320.1,137.6 322.0,137.2 323.8,137.3 325.7,137.1 327.4,136.5 329.2,136.4 331.1,136.9 332.7,135.6 334.5,134.0 336.3,133.5 338.1,132.7 340.0,132.3 341.7,131.9 343.2,131.0 344.5,129.8 345.8,128.9 347.2,127.6 348.4,126.0 349.8,125.5 350.9,123.7 351.7,122.5 352.9,120.8 353.9,119.4 354.6,117.6 355.4,116.3 356.5,115.3 357.1,112.7 358.3,110.8 359.0,109.4 359.9,107.4 360.8,105.7 361.9,103.7 362.5,102.9 364.0,100.1 365.1,98.1 365.9,95.0 367.0,97.1 367.8,99.0 368.8,99.9 369.5,99.2 370.5,96.3 371.5,94.5 372.8,92.7 374.1,92.3 374.3,91.2 374.6,88.0 374.9,86.7 375.6,85.1 375.7,83.6 375.7,80.8 376.2,80.4 376.4,78.0 376.7,75.6 377.0,74.5 377.0,71.8 377.6,69.7 377.6,68.9 379.0,66.3 380.3,65.6 380.2,62.5 380.4,61.0 381.0,60.4 381.3,58.0 381.4,56.3 381.6,55.3 382.1,53.6 382.0,51.5 383.3,49.3 384.3,48.6 385.1,46.7 386.4,45.5 387.3,43.6 388.1,45.0 388.1,45.2 388.5,45.6 388.4,42.0 388.5,39.9 388.9,40.7 389.2,37.1 389.2,34.5 389.5,33.5 389.0,32.7 389.2,29.9 389.3,28.8 389.8,28.3 389.5,26.7 390.9,26.1 391.5,28.3 391.4,30.9 391.5,33.5 391.6,35.5 392.2,36.4 391.9,35.5 392.2,32.9 392.7,29.9 393.2,30.3 393.4,27.6 393.6,26.5 395.5,28.8 398.1,26.6 398.4,26.7 398.8,27.6 398.7,29.5 399.0,32.9 399.5,33.9 399.6,34.8 400.2,33.2 400.7,32.8 401.5,30.1 401.5,32.8 401.7,33.2 402.2,36.4 402.7,38.3 402.9,40.6 402.9,41.8 402.7,42.2 402.8,45.8 403.4,46.9 403.3,47.8 403.3,50.3 404.0,51.2 403.6,52.6 403.9,56.2 404.6,56.8 404.6,57.6 405.1,61.0 405.8,63.2 406.4,64.3 406.4,66.0 406.5,65.9 407.1,68.4 407.2,69.4 407.4,72.6 408.0,74.4 408.3,75.0 408.4,76.6 408.7,79.3 408.6,79.3 408.9,82.2 409.3,82.7 409.8,85.9 409.9,86.1 410.4,88.7 410.4,90.0 410.9,92.7 411.2,93.9 411.4,94.9 412.0,96.8 411.9,98.7 412.2,99.7 412.6,101.9 412.9,103.7 413.1,104.4 413.5,106.0 413.7,108.1 414.0,110.1 414.1,111.6 414.6,113.0 414.8,115.3 415.4,116.1 415.8,119.0 416.2,120.1 416.8,122.4 417.2,124.1 417.8,125.1 418.7,127.5 419.2,128.5 419.9,131.0 420.8,132.3 421.8,133.9 422.7,135.1 425.0,136.8" fill="none" stroke="#000" stroke-width="1.8" stroke-linejoin="round" stroke-linecap="round"/>
<text class="cn" transform="translate(25.2,141.8) scale(0.68,1)" text-anchor="end" font-family="Liberation Sans, sans-serif" font-size="10.5" font-weight="bold" fill="#111" >0</text>
<text class="cn" transform="translate(25.2,114.86000000000001) scale(0.68,1)" text-anchor="end" font-family="Liberation Sans, sans-serif" font-size="10.5" font-weight="bold" fill="#111" >20</text>
<text class="cn" transform="translate(25.2,87.92) scale(0.68,1)" text-anchor="end" font-family="Liberation Sans, sans-serif" font-size="10.5" font-weight="bold" fill="#111" >40</text>
<text class="cn" transform="translate(25.2,60.98) scale(0.68,1)" text-anchor="end" font-family="Liberation Sans, sans-serif" font-size="10.5" font-weight="bold" fill="#111" >60</text>
<text class="cn" transform="translate(25.2,34.039999999999985) scale(0.68,1)" text-anchor="end" font-family="Liberation Sans, sans-serif" font-size="10.5" font-weight="bold" fill="#111" >80</text>
<text class="cn" transform="translate(25.2,8.39999999999999) scale(0.68,1)" text-anchor="end" font-family="Liberation Sans, sans-serif" font-size="10.5" font-weight="bold" fill="#111" >100</text>
<text class="cn" transform="translate(34.3,154.6) scale(0.56,1)" text-anchor="end" font-family="Liberation Sans, sans-serif" font-size="11" font-weight="bold" fill="#111" >10</text>
<text class="cn" transform="translate(34.0,151.0) scale(0.6,1)" font-family="Liberation Sans, sans-serif" font-size="8.5" font-weight="bold" font-style="italic" fill="#111">0</text>
<text class="cn" transform="translate(63.73488943488943,154.6) scale(0.56,1)" text-anchor="end" font-family="Liberation Sans, sans-serif" font-size="11" font-weight="bold" fill="#111" >10</text>
<text class="cn" transform="translate(63.434889434889435,151.0) scale(0.6,1)" font-family="Liberation Sans, sans-serif" font-size="8.5" font-weight="bold" font-style="italic" fill="#111">1</text>
<text class="cn" transform="translate(93.16977886977887,154.6) scale(0.56,1)" text-anchor="end" font-family="Liberation Sans, sans-serif" font-size="11" font-weight="bold" fill="#111" >10</text>
<text class="cn" transform="translate(92.86977886977887,151.0) scale(0.6,1)" font-family="Liberation Sans, sans-serif" font-size="8.5" font-weight="bold" font-style="italic" fill="#111">2</text>
<text class="cn" transform="translate(122.6046683046683,154.6) scale(0.56,1)" text-anchor="end" font-family="Liberation Sans, sans-serif" font-size="11" font-weight="bold" fill="#111" >10</text>
<text class="cn" transform="translate(122.3046683046683,151.0) scale(0.6,1)" font-family="Liberation Sans, sans-serif" font-size="8.5" font-weight="bold" font-style="italic" fill="#111">3</text>
<text class="cn" transform="translate(169.8,155.6) scale(0.56,1)" text-anchor="end" font-family="Liberation Sans, sans-serif" font-size="11" font-weight="bold" fill="#111"  font-style="italic">0</text>
<text class="cn" transform="translate(169.5,152.0) scale(0.6,1)" font-family="Liberation Sans, sans-serif" font-size="8.5" font-weight="bold" font-style="italic" fill="#111">0</text>
<text class="cn" transform="translate(199.23488943488945,155.6) scale(0.56,1)" text-anchor="end" font-family="Liberation Sans, sans-serif" font-size="11" font-weight="bold" fill="#111" >10</text>
<text class="cn" transform="translate(198.93488943488944,152.0) scale(0.6,1)" font-family="Liberation Sans, sans-serif" font-size="8.5" font-weight="bold" font-style="italic" fill="#111">1</text>
<text class="cn" transform="translate(228.6697788697789,155.6) scale(0.56,1)" text-anchor="end" font-family="Liberation Sans, sans-serif" font-size="11" font-weight="bold" fill="#111" >10</text>
<text class="cn" transform="translate(228.36977886977888,152.0) scale(0.6,1)" font-family="Liberation Sans, sans-serif" font-size="8.5" font-weight="bold" font-style="italic" fill="#111">2</text>
<text class="cn" transform="translate(258.10466830466834,155.6) scale(0.56,1)" text-anchor="end" font-family="Liberation Sans, sans-serif" font-size="11" font-weight="bold" fill="#111" >10</text>
<text class="cn" transform="translate(257.8046683046683,152.0) scale(0.6,1)" font-family="Liberation Sans, sans-serif" font-size="8.5" font-weight="bold" font-style="italic" fill="#111">3</text>
<text class="cn" transform="translate(306.40000000000003,155.29999999999998) scale(0.56,1)" text-anchor="end" font-family="Liberation Sans, sans-serif" font-size="11" font-weight="bold" fill="#111" >10</text>
<text class="cn" transform="translate(306.1,151.7) scale(0.6,1)" font-family="Liberation Sans, sans-serif" font-size="8.5" font-weight="bold" font-style="italic" fill="#111">0</text>
<text class="cn" transform="translate(335.90859950859954,155.29999999999998) scale(0.56,1)" text-anchor="end" font-family="Liberation Sans, sans-serif" font-size="11" font-weight="bold" fill="#111" >10</text>
<text class="cn" transform="translate(335.6085995085995,151.7) scale(0.6,1)" font-family="Liberation Sans, sans-serif" font-size="8.5" font-weight="bold" font-style="italic" fill="#111">1</text>
<text class="cn" transform="translate(365.41719901719904,155.29999999999998) scale(0.56,1)" text-anchor="end" font-family="Liberation Sans, sans-serif" font-size="11" font-weight="bold" fill="#111" >10</text>
<text class="cn" transform="translate(365.117199017199,151.7) scale(0.6,1)" font-family="Liberation Sans, sans-serif" font-size="8.5" font-weight="bold" font-style="italic" fill="#111">2</text>
<text class="cn" transform="translate(394.92579852579854,155.29999999999998) scale(0.56,1)" text-anchor="end" font-family="Liberation Sans, sans-serif" font-size="11" font-weight="bold" fill="#111" >10</text>
<text class="cn" transform="translate(394.62579852579853,151.7) scale(0.6,1)" font-family="Liberation Sans, sans-serif" font-size="8.5" font-weight="bold" font-style="italic" fill="#111">3</text>
<text class="hv" x="89.7" y="169.9" text-anchor="middle" font-family="Liberation Sans, sans-serif" font-size="9.7" font-weight="bold" fill="#111">CD40</text>
<text class="hv" x="228.2" y="170.2" text-anchor="middle" font-family="Liberation Sans, sans-serif" font-size="9.7" font-weight="bold" fill="#111">CD86</text>
<text class="hv" x="364.2" y="170.2" text-anchor="middle" font-family="Liberation Sans, sans-serif" font-size="9.7" font-weight="bold" fill="#111">CD70</text>
<text class="hv" transform="translate(0.9,14.4) scale(1.12,0.95)" font-family="Liberation Sans, sans-serif" font-size="12" font-weight="bold" fill="#111">A</text>
<text x="0" y="196.4" font-family="Liberation Sans, sans-serif" font-size="11.5" font-weight="bold" fill="#111">B</text>
<text x="0.8" y="436.4" font-family="Liberation Sans, sans-serif" font-size="11.5" font-weight="bold" fill="#111">C</text>
<text class="hv" transform="translate(8.6,104.8) rotate(-90)" font-family="Liberation Sans, sans-serif" font-size="10.6" font-weight="bold" fill="#111" textLength="72" lengthAdjust="spacingAndGlyphs">% of maximum</text>
<line x1="433" y1="17.3" x2="453.6" y2="17.3" stroke="#707070" stroke-width="1.9"/>
<line x1="433" y1="33.2" x2="453.6" y2="33.2" stroke="#111" stroke-width="2" stroke-dasharray="1.5 1.1"/>
<line x1="434.4" y1="49.2" x2="452" y2="49.2" stroke="#888" stroke-width="1.9" stroke-dasharray="6.6 4.8"/>
<line x1="434" y1="65.2" x2="453.6" y2="65.2" stroke="#000" stroke-width="2.7"/>
<text x="458.5" y="20.1" font-family="Liberation Sans, sans-serif" font-size="9.3" font-weight="bold" fill="#111" textLength="58" lengthAdjust="spacingAndGlyphs">control - LPS</text>
<text x="458.5" y="36.0" font-family="Liberation Sans, sans-serif" font-size="9.3" font-weight="bold" fill="#111" textLength="60.5" lengthAdjust="spacingAndGlyphs">control + LPS</text>
<text x="458.5" y="52.0" font-family="Liberation Sans, sans-serif" font-size="9.3" font-weight="bold" fill="#111" textLength="58.5" lengthAdjust="spacingAndGlyphs">CD70tg - LPS</text>
<text x="458.5" y="68.0" font-family="Liberation Sans, sans-serif" font-size="9.3" font-weight="bold" fill="#111" textLength="61" lengthAdjust="spacingAndGlyphs">CD70tg + LPS</text>
<line x1="90.0" y1="189.5" x2="90.0" y2="373.1" stroke="#000" stroke-width="1.4"/>
<line x1="89.4" y1="372.5" x2="384.6" y2="372.5" stroke="#000" stroke-width="1.4"/>
<line x1="86.0" y1="372.5" x2="90.0" y2="372.5" stroke="#000" stroke-width="1.1"/>
<text x="79.2" y="375.6" text-anchor="end" font-family="Liberation Sans, sans-serif" font-size="8.8" font-weight="bold" fill="#111">0</text>
<line x1="86.0" y1="342.0" x2="90.0" y2="342.0" stroke="#000" stroke-width="1.1"/>
<text x="79.2" y="345.1" text-anchor="end" font-family="Liberation Sans, sans-serif" font-size="8.8" font-weight="bold" fill="#111">5</text>
<line x1="86.0" y1="311.5" x2="90.0" y2="311.5" stroke="#000" stroke-width="1.1"/>
<text x="79.2" y="314.6" text-anchor="end" font-family="Liberation Sans, sans-serif" font-size="8.8" font-weight="bold" fill="#111">10</text>
<line x1="86.0" y1="281.0" x2="90.0" y2="281.0" stroke="#000" stroke-width="1.1"/>
<text x="79.2" y="284.1" text-anchor="end" font-family="Liberation Sans, sans-serif" font-size="8.8" font-weight="bold" fill="#111">15</text>
<line x1="86.0" y1="250.5" x2="90.0" y2="250.5" stroke="#000" stroke-width="1.1"/>
<text x="79.2" y="253.6" text-anchor="end" font-family="Liberation Sans, sans-serif" font-size="8.8" font-weight="bold" fill="#111">20</text>
<line x1="86.0" y1="220.0" x2="90.0" y2="220.0" stroke="#000" stroke-width="1.1"/>
<text x="79.2" y="223.1" text-anchor="end" font-family="Liberation Sans, sans-serif" font-size="8.8" font-weight="bold" fill="#111">25</text>
<line x1="86.0" y1="189.5" x2="90.0" y2="189.5" stroke="#000" stroke-width="1.1"/>
<text x="79.2" y="192.6" text-anchor="end" font-family="Liberation Sans, sans-serif" font-size="8.8" font-weight="bold" fill="#111">30</text>
<line x1="90.0" y1="372.5" x2="90.0" y2="376.4" stroke="#000" stroke-width="1.2"/>
<text x="89.2" y="392.7" text-anchor="middle" font-family="Liberation Sans, sans-serif" font-size="8.8" font-weight="bold" fill="#111">0</text>
<line x1="139.0" y1="372.5" x2="139.0" y2="376.4" stroke="#000" stroke-width="1.2"/>
<text x="138.2" y="392.7" text-anchor="middle" font-family="Liberation Sans, sans-serif" font-size="8.8" font-weight="bold" fill="#111">2</text>
<line x1="188.0" y1="372.5" x2="188.0" y2="376.4" stroke="#000" stroke-width="1.2"/>
<text x="187.2" y="392.7" text-anchor="middle" font-family="Liberation Sans, sans-serif" font-size="8.8" font-weight="bold" fill="#111">4</text>
<line x1="237.0" y1="372.5" x2="237.0" y2="376.4" stroke="#000" stroke-width="1.2"/>
<text x="236.2" y="392.7" text-anchor="middle" font-family="Liberation Sans, sans-serif" font-size="8.8" font-weight="bold" fill="#111">6</text>
<line x1="286.0" y1="372.5" x2="286.0" y2="376.4" stroke="#000" stroke-width="1.2"/>
<text x="285.2" y="392.7" text-anchor="middle" font-family="Liberation Sans, sans-serif" font-size="8.8" font-weight="bold" fill="#111">8</text>
<line x1="335.0" y1="372.5" x2="335.0" y2="376.4" stroke="#000" stroke-width="1.2"/>
<text x="333.5" y="392.7" text-anchor="middle" font-family="Liberation Sans, sans-serif" font-size="8.8" font-weight="bold" fill="#111">10</text>
<line x1="384.0" y1="372.5" x2="384.0" y2="376.4" stroke="#000" stroke-width="1.2"/>
<text x="382.5" y="392.7" text-anchor="middle" font-family="Liberation Sans, sans-serif" font-size="8.8" font-weight="bold" fill="#111">12</text>
<text x="175.4" y="409.3" font-family="Liberation Sans, sans-serif" font-size="10.4" font-weight="bold" fill="#111" textLength="122" lengthAdjust="spacingAndGlyphs">Day after DC vaccination</text>
<text transform="translate(52.2,356.5) rotate(-90)" font-family="Liberation Sans, sans-serif" font-size="10.4" font-weight="bold" fill="#111" textLength="148.5" lengthAdjust="spacingAndGlyphs">Te tramer+ of CD8+ T cells (%)</text>
<path d="M175,233.4 H170.6 V266.2 H175 M175,269.2 H170.6 V318 H175" fill="none" stroke="#8a8a8a" stroke-width="1.3"/>
<polyline points="187.7,234.5 236.3,299.4 359.2,363.6" fill="none" stroke="#000" stroke-width="1.5"/>
<polyline points="187.7,268.8 236.3,332.2 359.2,363.6" fill="none" stroke="#000" stroke-width="1.5"/>
<polyline points="187.7,242.3 236.3,332.4 359.2,366.4" fill="none" stroke="#000" stroke-width="1.5"/>
<polyline points="187.7,318.0 236.3,356.3 359.2,366.4" fill="none" stroke="#000" stroke-width="1.5"/>
<path d="M187.7,234.5 L187.7,224.3 M185.0,224.3 L190.4,224.3" stroke="#000" stroke-width="1.1" fill="none"/>
<path d="M187.7,268.8 L187.7,260.7 M185.0,260.7 L190.4,260.7" stroke="#000" stroke-width="1.1" fill="none"/>
<path d="M187.7,318.0 L187.7,307.3 M185.0,307.3 L190.4,307.3" stroke="#000" stroke-width="1.1" fill="none"/>
<path d="M236.3,299.4 L236.3,290.0 M233.6,290.0 L239.0,290.0" stroke="#000" stroke-width="1.1" fill="none"/>
<path d="M236.3,332.2 L236.3,323.3 M233.6,323.3 L239.0,323.3" stroke="#000" stroke-width="1.1" fill="none"/>
<path d="M236.3,356.0 L236.3,350.8 M234.0,350.8 L238.6,350.8" stroke="#000" stroke-width="1.1" fill="none"/>
<path d="M359.2,363.6 L359.2,358.2 M356.9,358.2 L361.5,358.2" stroke="#000" stroke-width="1.1" fill="none"/>
<rect x="183.4" y="230.2" width="8.6" height="8.6" fill="#000" stroke="#000" stroke-width="1.1"/>
<circle cx="187.7" cy="242.3" r="4.4" fill="#000" stroke="#000" stroke-width="1.2"/>
<rect x="183.4" y="264.5" width="8.6" height="8.6" fill="#fff" stroke="#000" stroke-width="1.1"/>
<circle cx="187.7" cy="318.0" r="4.4" fill="#fff" stroke="#000" stroke-width="1.2"/>
<rect x="232.0" y="327.9" width="8.6" height="8.6" fill="#fff" stroke="#000" stroke-width="1.1"/>
<circle cx="236.3" cy="332.4" r="4.4" fill="#000" stroke="#000" stroke-width="1.2"/>
<rect x="232.2" y="328.1" width="8.2" height="8.2" fill="#000" stroke="#000" stroke-width="1.1"/>
<rect x="231.9" y="328.5" width="8.8" height="8.8" fill="none" stroke="#666" stroke-width="0.8"/>
<rect x="232.0" y="295.1" width="8.6" height="8.6" fill="#000" stroke="#000" stroke-width="1.1"/>
<circle cx="236.3" cy="356.3" r="4.4" fill="#fff" stroke="#000" stroke-width="1.2"/>
<rect x="355.3" y="359.1" width="8.4" height="8.4" fill="#000" stroke="#000" stroke-width="1.1"/>
<rect x="355.3" y="360.4" width="8.4" height="8.4" fill="#fff" stroke="#000" stroke-width="1.1"/>
<circle cx="359.2" cy="366.4" r="4.4" fill="#000" stroke="#000" stroke-width="1.2"/>
<circle cx="359.2" cy="366.4" r="4.4" fill="#fff" stroke="#000" stroke-width="1.2"/>
<text class="st" x="188.1" y="223.6" text-anchor="middle" font-family="Liberation Sans, sans-serif" font-size="16.5" font-weight="bold" fill="#111">*</text>
<text class="st" x="188.1" y="261.6" text-anchor="middle" font-family="Liberation Sans, sans-serif" font-size="16.5" font-weight="bold" fill="#111">*</text>
<text class="st" x="236.7" y="289.6" text-anchor="middle" font-family="Liberation Sans, sans-serif" font-size="16.5" font-weight="bold" fill="#111">*</text>
<text class="st" x="236.7" y="325.0" text-anchor="middle" font-family="Liberation Sans, sans-serif" font-size="16.5" font-weight="bold" fill="#111">*</text>
<rect x="293.7" y="195.2" width="8.2" height="8.2" fill="#000" stroke="#000" stroke-width="1.1"/>
<rect x="293.7" y="211.1" width="8.2" height="8.2" fill="#fff" stroke="#000" stroke-width="1.1"/>
<circle cx="297.8" cy="232.3" r="4.2" fill="#000" stroke="#000" stroke-width="1.2"/>
<circle cx="297.8" cy="248.5" r="4.2" fill="#fff" stroke="#000" stroke-width="1.2"/>
<text x="310" y="203.0" font-family="Liberation Sans, sans-serif" font-size="10.3" font-weight="bold" fill="#111" textLength="68" lengthAdjust="spacingAndGlyphs">CD70tg + LPS</text>
<text x="310" y="218.89999999999998" font-family="Liberation Sans, sans-serif" font-size="10.3" font-weight="bold" fill="#111" textLength="65" lengthAdjust="spacingAndGlyphs">CD70tg - LPS</text>
<text x="310" y="236.0" font-family="Liberation Sans, sans-serif" font-size="10.3" font-weight="bold" fill="#111" textLength="67" lengthAdjust="spacingAndGlyphs">control + LPS</text>
<text x="310" y="252.2" font-family="Liberation Sans, sans-serif" font-size="10.3" font-weight="bold" fill="#111" textLength="64" lengthAdjust="spacingAndGlyphs">control - LPS</text>
<line x1="86.2" y1="430" x2="86.2" y2="640.0" stroke="#000" stroke-width="1.4"/>
<line x1="85.60000000000001" y1="639.4" x2="408.2" y2="639.4" stroke="#000" stroke-width="1.4"/>
<line x1="81.60000000000001" y1="639.4" x2="86.2" y2="639.4" stroke="#000" stroke-width="1.1"/>
<text x="76.4" y="642.5" text-anchor="end" font-family="Liberation Sans, sans-serif" font-size="8.9" font-weight="bold" fill="#111">0</text>
<line x1="81.60000000000001" y1="609.5" x2="86.2" y2="609.5" stroke="#000" stroke-width="1.1"/>
<text x="76.4" y="612.6" text-anchor="end" font-family="Liberation Sans, sans-serif" font-size="8.9" font-weight="bold" fill="#111">200</text>
<line x1="81.60000000000001" y1="579.6" x2="86.2" y2="579.6" stroke="#000" stroke-width="1.1"/>
<text x="76.4" y="582.7" text-anchor="end" font-family="Liberation Sans, sans-serif" font-size="8.9" font-weight="bold" fill="#111">400</text>
<line x1="81.60000000000001" y1="549.7" x2="86.2" y2="549.7" stroke="#000" stroke-width="1.1"/>
<text x="76.4" y="552.8" text-anchor="end" font-family="Liberation Sans, sans-serif" font-size="8.9" font-weight="bold" fill="#111">600</text>
<line x1="81.60000000000001" y1="519.8" x2="86.2" y2="519.8" stroke="#000" stroke-width="1.1"/>
<text x="76.4" y="522.9" text-anchor="end" font-family="Liberation Sans, sans-serif" font-size="8.9" font-weight="bold" fill="#111">800</text>
<line x1="81.60000000000001" y1="489.9" x2="86.2" y2="489.9" stroke="#000" stroke-width="1.1"/>
<text x="76.4" y="493.0" text-anchor="end" font-family="Liberation Sans, sans-serif" font-size="8.9" font-weight="bold" fill="#111">1000</text>
<line x1="81.60000000000001" y1="459.9" x2="86.2" y2="459.9" stroke="#000" stroke-width="1.1"/>
<text x="76.4" y="463.0" text-anchor="end" font-family="Liberation Sans, sans-serif" font-size="8.9" font-weight="bold" fill="#111">1200</text>
<line x1="81.60000000000001" y1="430.0" x2="86.2" y2="430.0" stroke="#000" stroke-width="1.1"/>
<text x="76.4" y="433.1" text-anchor="end" font-family="Liberation Sans, sans-serif" font-size="8.9" font-weight="bold" fill="#111">1400</text>
<line x1="86.2" y1="639.4" x2="86.2" y2="643.6" stroke="#000" stroke-width="1.2"/>
<text x="85.5" y="658.8" text-anchor="middle" font-family="Liberation Sans, sans-serif" font-size="8.9" font-weight="bold" fill="#111">0</text>
<line x1="109.2" y1="639.4" x2="109.2" y2="643.6" stroke="#000" stroke-width="1.2"/>
<text x="108.5" y="658.8" text-anchor="middle" font-family="Liberation Sans, sans-serif" font-size="8.9" font-weight="bold" fill="#111">2</text>
<line x1="132.1" y1="639.4" x2="132.1" y2="643.6" stroke="#000" stroke-width="1.2"/>
<text x="131.4" y="658.8" text-anchor="middle" font-family="Liberation Sans, sans-serif" font-size="8.9" font-weight="bold" fill="#111">4</text>
<line x1="155.1" y1="639.4" x2="155.1" y2="643.6" stroke="#000" stroke-width="1.2"/>
<text x="154.4" y="658.8" text-anchor="middle" font-family="Liberation Sans, sans-serif" font-size="8.9" font-weight="bold" fill="#111">6</text>
<line x1="178.0" y1="639.4" x2="178.0" y2="643.6" stroke="#000" stroke-width="1.2"/>
<text x="177.3" y="658.8" text-anchor="middle" font-family="Liberation Sans, sans-serif" font-size="8.9" font-weight="bold" fill="#111">8</text>
<line x1="201.0" y1="639.4" x2="201.0" y2="643.6" stroke="#000" stroke-width="1.2"/>
<text x="200.3" y="658.8" text-anchor="middle" font-family="Liberation Sans, sans-serif" font-size="8.9" font-weight="bold" fill="#111">10</text>
<line x1="224.0" y1="639.4" x2="224.0" y2="643.6" stroke="#000" stroke-width="1.2"/>
<text x="223.3" y="658.8" text-anchor="middle" font-family="Liberation Sans, sans-serif" font-size="8.9" font-weight="bold" fill="#111">12</text>
<line x1="246.9" y1="639.4" x2="246.9" y2="643.6" stroke="#000" stroke-width="1.2"/>
<text x="246.2" y="658.8" text-anchor="middle" font-family="Liberation Sans, sans-serif" font-size="8.9" font-weight="bold" fill="#111">14</text>
<line x1="269.9" y1="639.4" x2="269.9" y2="643.6" stroke="#000" stroke-width="1.2"/>
<text x="269.2" y="658.8" text-anchor="middle" font-family="Liberation Sans, sans-serif" font-size="8.9" font-weight="bold" fill="#111">16</text>
<line x1="292.8" y1="639.4" x2="292.8" y2="643.6" stroke="#000" stroke-width="1.2"/>
<text x="292.1" y="658.8" text-anchor="middle" font-family="Liberation Sans, sans-serif" font-size="8.9" font-weight="bold" fill="#111">18</text>
<line x1="315.8" y1="639.4" x2="315.8" y2="643.6" stroke="#000" stroke-width="1.2"/>
<text x="315.1" y="658.8" text-anchor="middle" font-family="Liberation Sans, sans-serif" font-size="8.9" font-weight="bold" fill="#111">20</text>
<line x1="338.8" y1="639.4" x2="338.8" y2="643.6" stroke="#000" stroke-width="1.2"/>
<text x="338.1" y="658.8" text-anchor="middle" font-family="Liberation Sans, sans-serif" font-size="8.9" font-weight="bold" fill="#111">22</text>
<line x1="361.7" y1="639.4" x2="361.7" y2="643.6" stroke="#000" stroke-width="1.2"/>
<text x="361.0" y="658.8" text-anchor="middle" font-family="Liberation Sans, sans-serif" font-size="8.9" font-weight="bold" fill="#111">24</text>
<line x1="384.7" y1="639.4" x2="384.7" y2="643.6" stroke="#000" stroke-width="1.2"/>
<text x="384.0" y="658.8" text-anchor="middle" font-family="Liberation Sans, sans-serif" font-size="8.9" font-weight="bold" fill="#111">26</text>
<line x1="407.6" y1="639.4" x2="407.6" y2="643.6" stroke="#000" stroke-width="1.2"/>
<text x="406.9" y="658.8" text-anchor="middle" font-family="Liberation Sans, sans-serif" font-size="8.9" font-weight="bold" fill="#111">28</text>
<text x="174.8" y="677.1" font-family="Liberation Sans, sans-serif" font-size="10.4" font-weight="bold" fill="#111" textLength="135.4" lengthAdjust="spacingAndGlyphs">Day after tumor inoculation</text>
<text transform="translate(39.4,564.7) rotate(-90)" font-family="Liberation Sans, sans-serif" font-size="10.4" font-weight="bold" fill="#111">Tumor size (mm<tspan font-size="6.5" dy="-3.6">3</tspan><tspan dy="3.6">)</tspan></text>
<path d="M155,592 V618" stroke="#333" stroke-width="1.5" fill="none"/><path d="M151.9,616.8 L158.1,616.8 L155,623.6 Z" fill="#000" stroke="#000" stroke-width="0.5"/>
<path d="M383.6,490 H387 V616.4 H383.6" fill="none" stroke="#8a8a8a" stroke-width="1.3"/>
<polyline points="155.1,639.4 201.0,634.9 224.0,612.0 246.9,639.1 281.4,636.4 304.3,634.0 373.2,615.8" fill="none" stroke="#000" stroke-width="1.5"/>
<polyline points="155.1,639.4 201.0,631.9 224.0,624.0 246.9,632.8 281.4,638.8 304.3,638.2 373.2,625.9" fill="none" stroke="#000" stroke-width="1.5"/>
<polyline points="155.1,639.4 201.0,628.6 224.0,624.0 246.9,631.3 281.4,638.2 304.3,635.7 373.2,621.2" fill="none" stroke="#000" stroke-width="1.5"/>
<polyline points="155.1,639.4 201.0,625.6 224.0,612.3 246.9,612.0 281.4,608.4 304.3,594.8 373.2,489.9" fill="none" stroke="#000" stroke-width="1.5"/>
<path d="M224.0,612.3 L224.0,603.6 M221.2,603.6 L226.8,603.6" stroke="#000" stroke-width="1.1" fill="none"/>
<path d="M246.9,631.3 L246.9,626.1 M244.2,626.1 L249.6,626.1" stroke="#000" stroke-width="1.1" fill="none"/>
<path d="M246.9,612.0 L246.9,606.5 M244.4,606.5 L249.4,606.5" stroke="#000" stroke-width="1.1" fill="none"/>
<path d="M281.4,608.4 L281.4,602.3 M278.9,602.3 L283.9,602.3" stroke="#000" stroke-width="1.1" fill="none"/>
<path d="M304.3,594.8 L304.3,579.4 M301.8,579.4 L306.8,579.4" stroke="#000" stroke-width="1.1" fill="none"/>
<path d="M373.2,489.9 L373.2,460.2 M370.5,460.2 L375.9,460.2" stroke="#000" stroke-width="1.1" fill="none"/>
<path d="M373.2,615.8 L373.2,594.2 M370.5,594.2 L375.9,594.2" stroke="#000" stroke-width="1.1" fill="none"/>
<path d="M373.2,621.2 L373.2,605.0 M370.5,605.0 L375.9,605.0" stroke="#000" stroke-width="1.1" fill="none"/>
<rect x="150.2" y="633.6" width="9.8" height="9.8" fill="#000" stroke="#000" stroke-width="1.1"/>
<circle cx="155.1" cy="638.9" r="4.6" fill="#fff" stroke="#000" stroke-width="1.2"/>
<rect x="196.7" y="627.6" width="8.6" height="8.6" fill="#000" stroke="#000" stroke-width="1.1"/>
<circle cx="201.0" cy="628.6" r="4.6" fill="#000" stroke="#000" stroke-width="1.2"/>
<rect x="196.4" y="630.3" width="9.2" height="9.2" fill="#fff" stroke="#000" stroke-width="1.1"/>
<circle cx="201.0" cy="625.6" r="4.7" fill="#fff" stroke="#000" stroke-width="1.2"/>
<rect x="219.3" y="607.3" width="9.4" height="9.4" fill="#fff" stroke="#000" stroke-width="1.1"/>
<circle cx="224.0" cy="624.0" r="4.7" fill="#000" stroke="#000" stroke-width="1.2"/>
<circle cx="224.0" cy="612.3" r="4.7" fill="#fff" stroke="#000" stroke-width="1.2"/>
<rect x="242.2" y="634.4" width="9.4" height="9.4" fill="#fff" stroke="#000" stroke-width="1.1"/>
<circle cx="246.9" cy="631.3" r="4.7" fill="#000" stroke="#000" stroke-width="1.2"/>
<circle cx="246.9" cy="612.0" r="4.7" fill="#fff" stroke="#000" stroke-width="1.2"/>
<rect x="276.7" y="631.7" width="9.4" height="9.4" fill="#fff" stroke="#000" stroke-width="1.1"/>
<circle cx="281.4" cy="638.2" r="4.7" fill="#000" stroke="#000" stroke-width="1.2"/>
<rect x="276.8" y="634.2" width="9.2" height="9.2" fill="#000" stroke="#000" stroke-width="1.1"/>
<circle cx="281.4" cy="608.4" r="4.7" fill="#fff" stroke="#000" stroke-width="1.2"/>
<rect x="299.6" y="629.3" width="9.4" height="9.4" fill="#fff" stroke="#000" stroke-width="1.1"/>
<circle cx="304.3" cy="635.7" r="4.7" fill="#000" stroke="#000" stroke-width="1.2"/>
<rect x="299.7" y="633.6" width="9.2" height="9.2" fill="#000" stroke="#000" stroke-width="1.1"/>
<circle cx="304.3" cy="594.8" r="4.7" fill="#fff" stroke="#000" stroke-width="1.2"/>
<rect x="368.5" y="611.1" width="9.4" height="9.4" fill="#fff" stroke="#000" stroke-width="1.1"/>
<circle cx="373.2" cy="621.2" r="4.7" fill="#000" stroke="#000" stroke-width="1.2"/>
<rect x="368.6" y="621.3" width="9.2" height="9.2" fill="#000" stroke="#000" stroke-width="1.1"/>
<circle cx="373.2" cy="489.9" r="4.7" fill="#fff" stroke="#000" stroke-width="1.2"/>
<text class="st" x="247.3" y="607.3" text-anchor="middle" font-family="Liberation Sans, sans-serif" font-size="16.5" font-weight="bold" fill="#111">*</text>
<text class="st" x="281.8" y="601.6" text-anchor="middle" font-family="Liberation Sans, sans-serif" font-size="16.5" font-weight="bold" fill="#111">*</text>
<text class="st" x="373.6" y="459.6" text-anchor="middle" font-family="Liberation Sans, sans-serif" font-size="16.5" font-weight="bold" fill="#111">*</text>
</svg></body></html>
